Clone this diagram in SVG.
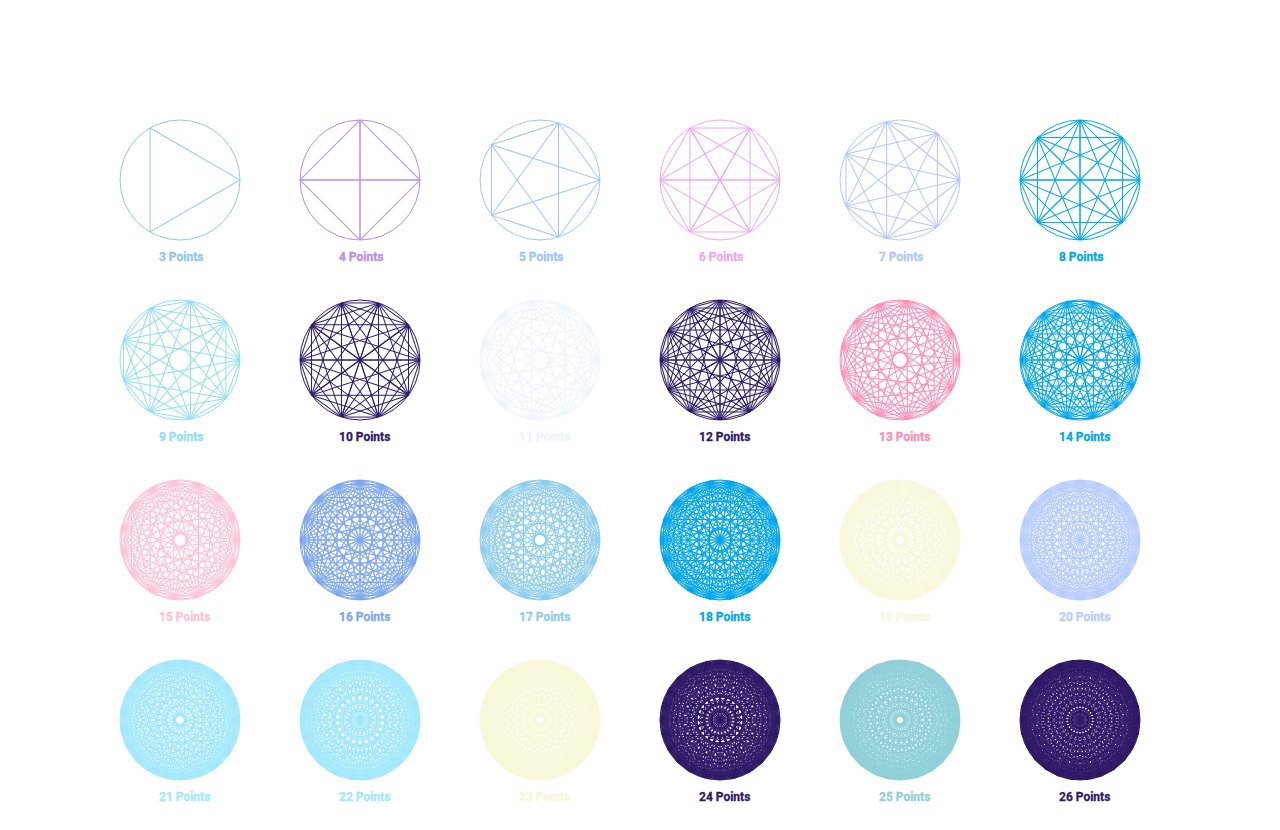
<svg xmlns="http://www.w3.org/2000/svg" xmlns:xlink="http://www.w3.org/1999/xlink" width="1280" height="830" viewBox="0 0 1280 830">
<style>
.nd{fill:none;stroke:currentColor;stroke-width:1}
.nd text{fill:currentColor;stroke:currentColor;stroke-width:0.3;font-family:Roboto,"Liberation Sans",sans-serif;font-weight:700;font-size:12px}
</style>
<defs>
<clipPath id="cp"><circle r="60"/></clipPath>
<line id="L" x1="60" y1="0" x2="60" y2="130"/>
<g id="f3"><use href="#L" transform="rotate(60 60 0)"/></g>
<g id="f4"><use href="#L" transform="rotate(45 60 0)"/><use href="#L" transform="rotate(90 60 0)"/></g>
<g id="f5"><use href="#L" transform="rotate(36 60 0)"/><use href="#L" transform="rotate(72 60 0)"/></g>
<g id="f6"><use href="#L" transform="rotate(30 60 0)"/><use href="#L" transform="rotate(60 60 0)"/><use href="#L" transform="rotate(90 60 0)"/></g>
<g id="f7"><use href="#L" transform="rotate(25.714 60 0)"/><use href="#L" transform="rotate(51.429 60 0)"/><use href="#L" transform="rotate(77.143 60 0)"/></g>
<g id="f8"><use href="#L" transform="rotate(22.5 60 0)"/><use href="#L" transform="rotate(45 60 0)"/><use href="#L" transform="rotate(67.5 60 0)"/><use href="#L" transform="rotate(90 60 0)"/></g>
<g id="f9"><use href="#L" transform="rotate(20 60 0)"/><use href="#L" transform="rotate(40 60 0)"/><use href="#L" transform="rotate(60 60 0)"/><use href="#L" transform="rotate(80 60 0)"/></g>
<g id="f10"><use href="#L" transform="rotate(18 60 0)"/><use href="#L" transform="rotate(36 60 0)"/><use href="#L" transform="rotate(54 60 0)"/><use href="#L" transform="rotate(72 60 0)"/><use href="#L" transform="rotate(90 60 0)"/></g>
<g id="f11"><use href="#L" transform="rotate(16.364 60 0)"/><use href="#L" transform="rotate(32.727 60 0)"/><use href="#L" transform="rotate(49.091 60 0)"/><use href="#L" transform="rotate(65.455 60 0)"/><use href="#L" transform="rotate(81.818 60 0)"/></g>
<g id="f12"><use href="#L" transform="rotate(15 60 0)"/><use href="#L" transform="rotate(30 60 0)"/><use href="#L" transform="rotate(45 60 0)"/><use href="#L" transform="rotate(60 60 0)"/><use href="#L" transform="rotate(75 60 0)"/><use href="#L" transform="rotate(90 60 0)"/></g>
<g id="f13"><use href="#L" transform="rotate(13.846 60 0)"/><use href="#L" transform="rotate(27.692 60 0)"/><use href="#L" transform="rotate(41.538 60 0)"/><use href="#L" transform="rotate(55.385 60 0)"/><use href="#L" transform="rotate(69.231 60 0)"/><use href="#L" transform="rotate(83.077 60 0)"/></g>
<g id="f14"><use href="#L" transform="rotate(12.857 60 0)"/><use href="#L" transform="rotate(25.714 60 0)"/><use href="#L" transform="rotate(38.571 60 0)"/><use href="#L" transform="rotate(51.429 60 0)"/><use href="#L" transform="rotate(64.286 60 0)"/><use href="#L" transform="rotate(77.143 60 0)"/><use href="#L" transform="rotate(90 60 0)"/></g>
<g id="f15"><use href="#L" transform="rotate(12 60 0)"/><use href="#L" transform="rotate(24 60 0)"/><use href="#L" transform="rotate(36 60 0)"/><use href="#L" transform="rotate(48 60 0)"/><use href="#L" transform="rotate(60 60 0)"/><use href="#L" transform="rotate(72 60 0)"/><use href="#L" transform="rotate(84 60 0)"/></g>
<g id="f16"><use href="#L" transform="rotate(11.25 60 0)"/><use href="#L" transform="rotate(22.5 60 0)"/><use href="#L" transform="rotate(33.75 60 0)"/><use href="#L" transform="rotate(45 60 0)"/><use href="#L" transform="rotate(56.25 60 0)"/><use href="#L" transform="rotate(67.5 60 0)"/><use href="#L" transform="rotate(78.75 60 0)"/><use href="#L" transform="rotate(90 60 0)"/></g>
<g id="f17"><use href="#L" transform="rotate(10.588 60 0)"/><use href="#L" transform="rotate(21.176 60 0)"/><use href="#L" transform="rotate(31.765 60 0)"/><use href="#L" transform="rotate(42.353 60 0)"/><use href="#L" transform="rotate(52.941 60 0)"/><use href="#L" transform="rotate(63.529 60 0)"/><use href="#L" transform="rotate(74.118 60 0)"/><use href="#L" transform="rotate(84.706 60 0)"/></g>
<g id="f18"><use href="#L" transform="rotate(10 60 0)"/><use href="#L" transform="rotate(20 60 0)"/><use href="#L" transform="rotate(30 60 0)"/><use href="#L" transform="rotate(40 60 0)"/><use href="#L" transform="rotate(50 60 0)"/><use href="#L" transform="rotate(60 60 0)"/><use href="#L" transform="rotate(70 60 0)"/><use href="#L" transform="rotate(80 60 0)"/><use href="#L" transform="rotate(90 60 0)"/></g>
<g id="f19"><use href="#L" transform="rotate(9.474 60 0)"/><use href="#L" transform="rotate(18.947 60 0)"/><use href="#L" transform="rotate(28.421 60 0)"/><use href="#L" transform="rotate(37.895 60 0)"/><use href="#L" transform="rotate(47.368 60 0)"/><use href="#L" transform="rotate(56.842 60 0)"/><use href="#L" transform="rotate(66.316 60 0)"/><use href="#L" transform="rotate(75.789 60 0)"/><use href="#L" transform="rotate(85.263 60 0)"/></g>
<g id="f20"><use href="#L" transform="rotate(9 60 0)"/><use href="#L" transform="rotate(18 60 0)"/><use href="#L" transform="rotate(27 60 0)"/><use href="#L" transform="rotate(36 60 0)"/><use href="#L" transform="rotate(45 60 0)"/><use href="#L" transform="rotate(54 60 0)"/><use href="#L" transform="rotate(63 60 0)"/><use href="#L" transform="rotate(72 60 0)"/><use href="#L" transform="rotate(81 60 0)"/><use href="#L" transform="rotate(90 60 0)"/></g>
<g id="f21"><use href="#L" transform="rotate(8.571 60 0)"/><use href="#L" transform="rotate(17.143 60 0)"/><use href="#L" transform="rotate(25.714 60 0)"/><use href="#L" transform="rotate(34.286 60 0)"/><use href="#L" transform="rotate(42.857 60 0)"/><use href="#L" transform="rotate(51.429 60 0)"/><use href="#L" transform="rotate(60 60 0)"/><use href="#L" transform="rotate(68.571 60 0)"/><use href="#L" transform="rotate(77.143 60 0)"/><use href="#L" transform="rotate(85.714 60 0)"/></g>
<g id="f22"><use href="#L" transform="rotate(8.182 60 0)"/><use href="#L" transform="rotate(16.364 60 0)"/><use href="#L" transform="rotate(24.545 60 0)"/><use href="#L" transform="rotate(32.727 60 0)"/><use href="#L" transform="rotate(40.909 60 0)"/><use href="#L" transform="rotate(49.091 60 0)"/><use href="#L" transform="rotate(57.273 60 0)"/><use href="#L" transform="rotate(65.455 60 0)"/><use href="#L" transform="rotate(73.636 60 0)"/><use href="#L" transform="rotate(81.818 60 0)"/><use href="#L" transform="rotate(90 60 0)"/></g>
<g id="f23"><use href="#L" transform="rotate(7.826 60 0)"/><use href="#L" transform="rotate(15.652 60 0)"/><use href="#L" transform="rotate(23.478 60 0)"/><use href="#L" transform="rotate(31.304 60 0)"/><use href="#L" transform="rotate(39.13 60 0)"/><use href="#L" transform="rotate(46.957 60 0)"/><use href="#L" transform="rotate(54.783 60 0)"/><use href="#L" transform="rotate(62.609 60 0)"/><use href="#L" transform="rotate(70.435 60 0)"/><use href="#L" transform="rotate(78.261 60 0)"/><use href="#L" transform="rotate(86.087 60 0)"/></g>
<g id="f24"><use href="#L" transform="rotate(7.5 60 0)"/><use href="#L" transform="rotate(15 60 0)"/><use href="#L" transform="rotate(22.5 60 0)"/><use href="#L" transform="rotate(30 60 0)"/><use href="#L" transform="rotate(37.5 60 0)"/><use href="#L" transform="rotate(45 60 0)"/><use href="#L" transform="rotate(52.5 60 0)"/><use href="#L" transform="rotate(60 60 0)"/><use href="#L" transform="rotate(67.5 60 0)"/><use href="#L" transform="rotate(75 60 0)"/><use href="#L" transform="rotate(82.5 60 0)"/><use href="#L" transform="rotate(90 60 0)"/></g>
<g id="f25"><use href="#L" transform="rotate(7.2 60 0)"/><use href="#L" transform="rotate(14.4 60 0)"/><use href="#L" transform="rotate(21.6 60 0)"/><use href="#L" transform="rotate(28.8 60 0)"/><use href="#L" transform="rotate(36 60 0)"/><use href="#L" transform="rotate(43.2 60 0)"/><use href="#L" transform="rotate(50.4 60 0)"/><use href="#L" transform="rotate(57.6 60 0)"/><use href="#L" transform="rotate(64.8 60 0)"/><use href="#L" transform="rotate(72 60 0)"/><use href="#L" transform="rotate(79.2 60 0)"/><use href="#L" transform="rotate(86.4 60 0)"/></g>
<g id="f26"><use href="#L" transform="rotate(6.923 60 0)"/><use href="#L" transform="rotate(13.846 60 0)"/><use href="#L" transform="rotate(20.769 60 0)"/><use href="#L" transform="rotate(27.692 60 0)"/><use href="#L" transform="rotate(34.615 60 0)"/><use href="#L" transform="rotate(41.538 60 0)"/><use href="#L" transform="rotate(48.462 60 0)"/><use href="#L" transform="rotate(55.385 60 0)"/><use href="#L" transform="rotate(62.308 60 0)"/><use href="#L" transform="rotate(69.231 60 0)"/><use href="#L" transform="rotate(76.154 60 0)"/><use href="#L" transform="rotate(83.077 60 0)"/><use href="#L" transform="rotate(90 60 0)"/></g>
</defs>
<rect width="1280" height="830" fill="#ffffff"/>

<g id="k3" class="nd" color="#8ecae6" transform="translate(180,180)"><g clip-path="url(#cp)"><use href="#f3"/><g transform="rotate(120)"><use href="#f3"/><g transform="rotate(120)"><use href="#f3"/></g></g></g><circle r="60"/><text x="-21" y="81">3 Points</text></g>

<g id="k4" class="nd" color="#b98cf0" transform="translate(360,180)"><g clip-path="url(#cp)"><use href="#f4"/><g transform="rotate(90)"><use href="#f4"/><g transform="rotate(90)"><use href="#f4"/><g transform="rotate(90)"><use href="#f4"/></g></g></g></g><circle r="60"/><text x="-21" y="81">4 Points</text></g>

<g id="k5" class="nd" color="#a0c4ff" transform="translate(540,180)"><g clip-path="url(#cp)"><use href="#f5"/><g transform="rotate(72)"><use href="#f5"/><g transform="rotate(72)"><use href="#f5"/><g transform="rotate(72)"><use href="#f5"/><g transform="rotate(72)"><use href="#f5"/></g></g></g></g></g><circle r="60"/><text x="-21" y="81">5 Points</text></g>

<g id="k6" class="nd" color="#f1a7ef" transform="translate(720,180)"><g clip-path="url(#cp)"><use href="#f6"/><g transform="rotate(60)"><use href="#f6"/><g transform="rotate(60)"><use href="#f6"/><g transform="rotate(60)"><use href="#f6"/><g transform="rotate(60)"><use href="#f6"/><g transform="rotate(60)"><use href="#f6"/></g></g></g></g></g></g><circle r="60"/><text x="-21" y="81">6 Points</text></g>

<g id="k7" class="nd" color="#b4c6ff" transform="translate(900,180)"><g clip-path="url(#cp)"><use href="#f7"/><g transform="rotate(51.42857)"><use href="#f7"/><g transform="rotate(51.42857)"><use href="#f7"/><g transform="rotate(51.42857)"><use href="#f7"/><g transform="rotate(51.42857)"><use href="#f7"/><g transform="rotate(51.42857)"><use href="#f7"/><g transform="rotate(51.42857)"><use href="#f7"/></g></g></g></g></g></g></g><circle r="60"/><text x="-21" y="81">7 Points</text></g>

<g id="k8" class="nd" color="#00a6ed" transform="translate(1080,180)"><g clip-path="url(#cp)"><use href="#f8"/><g transform="rotate(45)"><use href="#f8"/><g transform="rotate(45)"><use href="#f8"/><g transform="rotate(45)"><use href="#f8"/><g transform="rotate(45)"><use href="#f8"/><g transform="rotate(45)"><use href="#f8"/><g transform="rotate(45)"><use href="#f8"/><g transform="rotate(45)"><use href="#f8"/></g></g></g></g></g></g></g></g><circle r="60"/><text x="-21" y="81">8 Points</text></g>

<g id="k9" class="nd" color="#90e0ef" transform="translate(180,360)"><g clip-path="url(#cp)"><use href="#f9"/><g transform="rotate(40)"><use href="#f9"/><g transform="rotate(40)"><use href="#f9"/><g transform="rotate(40)"><use href="#f9"/><g transform="rotate(40)"><use href="#f9"/><g transform="rotate(40)"><use href="#f9"/><g transform="rotate(40)"><use href="#f9"/><g transform="rotate(40)"><use href="#f9"/><g transform="rotate(40)"><use href="#f9"/></g></g></g></g></g></g></g></g></g><circle r="60"/><text x="-21" y="81">9 Points</text></g>

<g id="k10" class="nd" color="#2f1a68" transform="translate(360,360)"><g clip-path="url(#cp)"><use href="#f10"/><g transform="rotate(36)"><use href="#f10"/><g transform="rotate(36)"><use href="#f10"/><g transform="rotate(36)"><use href="#f10"/><g transform="rotate(36)"><use href="#f10"/><g transform="rotate(36)"><use href="#f10"/><g transform="rotate(36)"><use href="#f10"/><g transform="rotate(36)"><use href="#f10"/><g transform="rotate(36)"><use href="#f10"/><g transform="rotate(36)"><use href="#f10"/></g></g></g></g></g></g></g></g></g></g><circle r="60"/><text x="-21" y="81">10 Points</text></g>

<g id="k11" class="nd" color="#edf2ff" transform="translate(540,360)"><g clip-path="url(#cp)"><use href="#f11"/><g transform="rotate(32.72727)"><use href="#f11"/><g transform="rotate(32.72727)"><use href="#f11"/><g transform="rotate(32.72727)"><use href="#f11"/><g transform="rotate(32.72727)"><use href="#f11"/><g transform="rotate(32.72727)"><use href="#f11"/><g transform="rotate(32.72727)"><use href="#f11"/><g transform="rotate(32.72727)"><use href="#f11"/><g transform="rotate(32.72727)"><use href="#f11"/><g transform="rotate(32.72727)"><use href="#f11"/><g transform="rotate(32.72727)"><use href="#f11"/></g></g></g></g></g></g></g></g></g></g></g><circle r="60"/><text x="-21" y="81">11 Points</text></g>

<g id="k12" class="nd" color="#2f1a68" transform="translate(720,360)"><g clip-path="url(#cp)"><use href="#f12"/><g transform="rotate(30)"><use href="#f12"/><g transform="rotate(30)"><use href="#f12"/><g transform="rotate(30)"><use href="#f12"/><g transform="rotate(30)"><use href="#f12"/><g transform="rotate(30)"><use href="#f12"/><g transform="rotate(30)"><use href="#f12"/><g transform="rotate(30)"><use href="#f12"/><g transform="rotate(30)"><use href="#f12"/><g transform="rotate(30)"><use href="#f12"/><g transform="rotate(30)"><use href="#f12"/><g transform="rotate(30)"><use href="#f12"/></g></g></g></g></g></g></g></g></g></g></g></g><circle r="60"/><text x="-21" y="81">12 Points</text></g>

<g id="k13" class="nd" color="#ff8db4" transform="translate(900,360)"><g clip-path="url(#cp)"><use href="#f13"/><g transform="rotate(27.69231)"><use href="#f13"/><g transform="rotate(27.69231)"><use href="#f13"/><g transform="rotate(27.69231)"><use href="#f13"/><g transform="rotate(27.69231)"><use href="#f13"/><g transform="rotate(27.69231)"><use href="#f13"/><g transform="rotate(27.69231)"><use href="#f13"/><g transform="rotate(27.69231)"><use href="#f13"/><g transform="rotate(27.69231)"><use href="#f13"/><g transform="rotate(27.69231)"><use href="#f13"/><g transform="rotate(27.69231)"><use href="#f13"/><g transform="rotate(27.69231)"><use href="#f13"/><g transform="rotate(27.69231)"><use href="#f13"/></g></g></g></g></g></g></g></g></g></g></g></g></g><circle r="60"/><text x="-21" y="81">13 Points</text></g>

<g id="k14" class="nd" color="#00a6ed" transform="translate(1080,360)"><g clip-path="url(#cp)"><use href="#f14"/><g transform="rotate(25.71429)"><use href="#f14"/><g transform="rotate(25.71429)"><use href="#f14"/><g transform="rotate(25.71429)"><use href="#f14"/><g transform="rotate(25.71429)"><use href="#f14"/><g transform="rotate(25.71429)"><use href="#f14"/><g transform="rotate(25.71429)"><use href="#f14"/><g transform="rotate(25.71429)"><use href="#f14"/><g transform="rotate(25.71429)"><use href="#f14"/><g transform="rotate(25.71429)"><use href="#f14"/><g transform="rotate(25.71429)"><use href="#f14"/><g transform="rotate(25.71429)"><use href="#f14"/><g transform="rotate(25.71429)"><use href="#f14"/><g transform="rotate(25.71429)"><use href="#f14"/></g></g></g></g></g></g></g></g></g></g></g></g></g></g><circle r="60"/><text x="-21" y="81">14 Points</text></g>

<g id="k15" class="nd" color="#ffc2d6" transform="translate(180,540)"><g clip-path="url(#cp)"><use href="#f15"/><g transform="rotate(24)"><use href="#f15"/><g transform="rotate(24)"><use href="#f15"/><g transform="rotate(24)"><use href="#f15"/><g transform="rotate(24)"><use href="#f15"/><g transform="rotate(24)"><use href="#f15"/><g transform="rotate(24)"><use href="#f15"/><g transform="rotate(24)"><use href="#f15"/><g transform="rotate(24)"><use href="#f15"/><g transform="rotate(24)"><use href="#f15"/><g transform="rotate(24)"><use href="#f15"/><g transform="rotate(24)"><use href="#f15"/><g transform="rotate(24)"><use href="#f15"/><g transform="rotate(24)"><use href="#f15"/><g transform="rotate(24)"><use href="#f15"/></g></g></g></g></g></g></g></g></g></g></g></g></g></g></g><circle r="60"/><text x="-21" y="81">15 Points</text></g>

<g id="k16" class="nd" color="#7ea7f0" transform="translate(360,540)"><g clip-path="url(#cp)"><use href="#f16"/><g transform="rotate(22.5)"><use href="#f16"/><g transform="rotate(22.5)"><use href="#f16"/><g transform="rotate(22.5)"><use href="#f16"/><g transform="rotate(22.5)"><use href="#f16"/><g transform="rotate(22.5)"><use href="#f16"/><g transform="rotate(22.5)"><use href="#f16"/><g transform="rotate(22.5)"><use href="#f16"/><g transform="rotate(22.5)"><use href="#f16"/><g transform="rotate(22.5)"><use href="#f16"/><g transform="rotate(22.5)"><use href="#f16"/><g transform="rotate(22.5)"><use href="#f16"/><g transform="rotate(22.5)"><use href="#f16"/><g transform="rotate(22.5)"><use href="#f16"/><g transform="rotate(22.5)"><use href="#f16"/><g transform="rotate(22.5)"><use href="#f16"/></g></g></g></g></g></g></g></g></g></g></g></g></g></g></g></g><circle r="60"/><text x="-21" y="81">16 Points</text></g>

<g id="k17" class="nd" color="#8ecdee" transform="translate(540,540)"><g clip-path="url(#cp)"><use href="#f17"/><g transform="rotate(21.17647)"><use href="#f17"/><g transform="rotate(21.17647)"><use href="#f17"/><g transform="rotate(21.17647)"><use href="#f17"/><g transform="rotate(21.17647)"><use href="#f17"/><g transform="rotate(21.17647)"><use href="#f17"/><g transform="rotate(21.17647)"><use href="#f17"/><g transform="rotate(21.17647)"><use href="#f17"/><g transform="rotate(21.17647)"><use href="#f17"/><g transform="rotate(21.17647)"><use href="#f17"/><g transform="rotate(21.17647)"><use href="#f17"/><g transform="rotate(21.17647)"><use href="#f17"/><g transform="rotate(21.17647)"><use href="#f17"/><g transform="rotate(21.17647)"><use href="#f17"/><g transform="rotate(21.17647)"><use href="#f17"/><g transform="rotate(21.17647)"><use href="#f17"/><g transform="rotate(21.17647)"><use href="#f17"/></g></g></g></g></g></g></g></g></g></g></g></g></g></g></g></g></g><circle r="60"/><text x="-21" y="81">17 Points</text></g>

<g id="k18" class="nd" color="#00a6ed" transform="translate(720,540)"><g clip-path="url(#cp)"><use href="#f18"/><g transform="rotate(20)"><use href="#f18"/><g transform="rotate(20)"><use href="#f18"/><g transform="rotate(20)"><use href="#f18"/><g transform="rotate(20)"><use href="#f18"/><g transform="rotate(20)"><use href="#f18"/><g transform="rotate(20)"><use href="#f18"/><g transform="rotate(20)"><use href="#f18"/><g transform="rotate(20)"><use href="#f18"/><g transform="rotate(20)"><use href="#f18"/><g transform="rotate(20)"><use href="#f18"/><g transform="rotate(20)"><use href="#f18"/><g transform="rotate(20)"><use href="#f18"/><g transform="rotate(20)"><use href="#f18"/><g transform="rotate(20)"><use href="#f18"/><g transform="rotate(20)"><use href="#f18"/><g transform="rotate(20)"><use href="#f18"/><g transform="rotate(20)"><use href="#f18"/></g></g></g></g></g></g></g></g></g></g></g></g></g></g></g></g></g></g><circle r="60"/><text x="-21" y="81">18 Points</text></g>

<g id="k19" class="nd" color="#f8f7d8" transform="translate(900,540)"><g clip-path="url(#cp)"><use href="#f19"/><g transform="rotate(18.94737)"><use href="#f19"/><g transform="rotate(18.94737)"><use href="#f19"/><g transform="rotate(18.94737)"><use href="#f19"/><g transform="rotate(18.94737)"><use href="#f19"/><g transform="rotate(18.94737)"><use href="#f19"/><g transform="rotate(18.94737)"><use href="#f19"/><g transform="rotate(18.94737)"><use href="#f19"/><g transform="rotate(18.94737)"><use href="#f19"/><g transform="rotate(18.94737)"><use href="#f19"/><g transform="rotate(18.94737)"><use href="#f19"/><g transform="rotate(18.94737)"><use href="#f19"/><g transform="rotate(18.94737)"><use href="#f19"/><g transform="rotate(18.94737)"><use href="#f19"/><g transform="rotate(18.94737)"><use href="#f19"/><g transform="rotate(18.94737)"><use href="#f19"/><g transform="rotate(18.94737)"><use href="#f19"/><g transform="rotate(18.94737)"><use href="#f19"/><g transform="rotate(18.94737)"><use href="#f19"/></g></g></g></g></g></g></g></g></g></g></g></g></g></g></g></g></g></g></g><circle r="60"/><text x="-21" y="81">19 Points</text></g>

<g id="k20" class="nd" color="#b8cdff" transform="translate(1080,540)"><g clip-path="url(#cp)"><use href="#f20"/><g transform="rotate(18)"><use href="#f20"/><g transform="rotate(18)"><use href="#f20"/><g transform="rotate(18)"><use href="#f20"/><g transform="rotate(18)"><use href="#f20"/><g transform="rotate(18)"><use href="#f20"/><g transform="rotate(18)"><use href="#f20"/><g transform="rotate(18)"><use href="#f20"/><g transform="rotate(18)"><use href="#f20"/><g transform="rotate(18)"><use href="#f20"/><g transform="rotate(18)"><use href="#f20"/><g transform="rotate(18)"><use href="#f20"/><g transform="rotate(18)"><use href="#f20"/><g transform="rotate(18)"><use href="#f20"/><g transform="rotate(18)"><use href="#f20"/><g transform="rotate(18)"><use href="#f20"/><g transform="rotate(18)"><use href="#f20"/><g transform="rotate(18)"><use href="#f20"/><g transform="rotate(18)"><use href="#f20"/><g transform="rotate(18)"><use href="#f20"/></g></g></g></g></g></g></g></g></g></g></g></g></g></g></g></g></g></g></g></g><circle r="60"/><text x="-21" y="81">20 Points</text></g>

<g id="k21" class="nd" color="#a2e8fc" transform="translate(180,720)"><g clip-path="url(#cp)"><use href="#f21"/><g transform="rotate(17.14286)"><use href="#f21"/><g transform="rotate(17.14286)"><use href="#f21"/><g transform="rotate(17.14286)"><use href="#f21"/><g transform="rotate(17.14286)"><use href="#f21"/><g transform="rotate(17.14286)"><use href="#f21"/><g transform="rotate(17.14286)"><use href="#f21"/><g transform="rotate(17.14286)"><use href="#f21"/><g transform="rotate(17.14286)"><use href="#f21"/><g transform="rotate(17.14286)"><use href="#f21"/><g transform="rotate(17.14286)"><use href="#f21"/><g transform="rotate(17.14286)"><use href="#f21"/><g transform="rotate(17.14286)"><use href="#f21"/><g transform="rotate(17.14286)"><use href="#f21"/><g transform="rotate(17.14286)"><use href="#f21"/><g transform="rotate(17.14286)"><use href="#f21"/><g transform="rotate(17.14286)"><use href="#f21"/><g transform="rotate(17.14286)"><use href="#f21"/><g transform="rotate(17.14286)"><use href="#f21"/><g transform="rotate(17.14286)"><use href="#f21"/><g transform="rotate(17.14286)"><use href="#f21"/></g></g></g></g></g></g></g></g></g></g></g></g></g></g></g></g></g></g></g></g></g><circle r="60"/><text x="-21" y="81">21 Points</text></g>

<g id="k22" class="nd" color="#a2e8fc" transform="translate(360,720)"><g clip-path="url(#cp)"><use href="#f22"/><g transform="rotate(16.36364)"><use href="#f22"/><g transform="rotate(16.36364)"><use href="#f22"/><g transform="rotate(16.36364)"><use href="#f22"/><g transform="rotate(16.36364)"><use href="#f22"/><g transform="rotate(16.36364)"><use href="#f22"/><g transform="rotate(16.36364)"><use href="#f22"/><g transform="rotate(16.36364)"><use href="#f22"/><g transform="rotate(16.36364)"><use href="#f22"/><g transform="rotate(16.36364)"><use href="#f22"/><g transform="rotate(16.36364)"><use href="#f22"/><g transform="rotate(16.36364)"><use href="#f22"/><g transform="rotate(16.36364)"><use href="#f22"/><g transform="rotate(16.36364)"><use href="#f22"/><g transform="rotate(16.36364)"><use href="#f22"/><g transform="rotate(16.36364)"><use href="#f22"/><g transform="rotate(16.36364)"><use href="#f22"/><g transform="rotate(16.36364)"><use href="#f22"/><g transform="rotate(16.36364)"><use href="#f22"/><g transform="rotate(16.36364)"><use href="#f22"/><g transform="rotate(16.36364)"><use href="#f22"/><g transform="rotate(16.36364)"><use href="#f22"/></g></g></g></g></g></g></g></g></g></g></g></g></g></g></g></g></g></g></g></g></g></g><circle r="60"/><text x="-21" y="81">22 Points</text></g>

<g id="k23" class="nd" color="#f8f7d8" transform="translate(540,720)"><g clip-path="url(#cp)"><use href="#f23"/><g transform="rotate(15.65217)"><use href="#f23"/><g transform="rotate(15.65217)"><use href="#f23"/><g transform="rotate(15.65217)"><use href="#f23"/><g transform="rotate(15.65217)"><use href="#f23"/><g transform="rotate(15.65217)"><use href="#f23"/><g transform="rotate(15.65217)"><use href="#f23"/><g transform="rotate(15.65217)"><use href="#f23"/><g transform="rotate(15.65217)"><use href="#f23"/><g transform="rotate(15.65217)"><use href="#f23"/><g transform="rotate(15.65217)"><use href="#f23"/><g transform="rotate(15.65217)"><use href="#f23"/><g transform="rotate(15.65217)"><use href="#f23"/><g transform="rotate(15.65217)"><use href="#f23"/><g transform="rotate(15.65217)"><use href="#f23"/><g transform="rotate(15.65217)"><use href="#f23"/><g transform="rotate(15.65217)"><use href="#f23"/><g transform="rotate(15.65217)"><use href="#f23"/><g transform="rotate(15.65217)"><use href="#f23"/><g transform="rotate(15.65217)"><use href="#f23"/><g transform="rotate(15.65217)"><use href="#f23"/><g transform="rotate(15.65217)"><use href="#f23"/><g transform="rotate(15.65217)"><use href="#f23"/></g></g></g></g></g></g></g></g></g></g></g></g></g></g></g></g></g></g></g></g></g></g></g><circle r="60"/><text x="-21" y="81">23 Points</text></g>

<g id="k24" class="nd" color="#2f1a68" transform="translate(720,720)"><g clip-path="url(#cp)"><use href="#f24"/><g transform="rotate(15)"><use href="#f24"/><g transform="rotate(15)"><use href="#f24"/><g transform="rotate(15)"><use href="#f24"/><g transform="rotate(15)"><use href="#f24"/><g transform="rotate(15)"><use href="#f24"/><g transform="rotate(15)"><use href="#f24"/><g transform="rotate(15)"><use href="#f24"/><g transform="rotate(15)"><use href="#f24"/><g transform="rotate(15)"><use href="#f24"/><g transform="rotate(15)"><use href="#f24"/><g transform="rotate(15)"><use href="#f24"/><g transform="rotate(15)"><use href="#f24"/><g transform="rotate(15)"><use href="#f24"/><g transform="rotate(15)"><use href="#f24"/><g transform="rotate(15)"><use href="#f24"/><g transform="rotate(15)"><use href="#f24"/><g transform="rotate(15)"><use href="#f24"/><g transform="rotate(15)"><use href="#f24"/><g transform="rotate(15)"><use href="#f24"/><g transform="rotate(15)"><use href="#f24"/><g transform="rotate(15)"><use href="#f24"/><g transform="rotate(15)"><use href="#f24"/><g transform="rotate(15)"><use href="#f24"/></g></g></g></g></g></g></g></g></g></g></g></g></g></g></g></g></g></g></g></g></g></g></g></g><circle r="60"/><text x="-21" y="81">24 Points</text></g>

<g id="k25" class="nd" color="#8fd0d8" transform="translate(900,720)"><g clip-path="url(#cp)"><use href="#f25"/><g transform="rotate(14.4)"><use href="#f25"/><g transform="rotate(14.4)"><use href="#f25"/><g transform="rotate(14.4)"><use href="#f25"/><g transform="rotate(14.4)"><use href="#f25"/><g transform="rotate(14.4)"><use href="#f25"/><g transform="rotate(14.4)"><use href="#f25"/><g transform="rotate(14.4)"><use href="#f25"/><g transform="rotate(14.4)"><use href="#f25"/><g transform="rotate(14.4)"><use href="#f25"/><g transform="rotate(14.4)"><use href="#f25"/><g transform="rotate(14.4)"><use href="#f25"/><g transform="rotate(14.4)"><use href="#f25"/><g transform="rotate(14.4)"><use href="#f25"/><g transform="rotate(14.4)"><use href="#f25"/><g transform="rotate(14.4)"><use href="#f25"/><g transform="rotate(14.4)"><use href="#f25"/><g transform="rotate(14.4)"><use href="#f25"/><g transform="rotate(14.4)"><use href="#f25"/><g transform="rotate(14.4)"><use href="#f25"/><g transform="rotate(14.4)"><use href="#f25"/><g transform="rotate(14.4)"><use href="#f25"/><g transform="rotate(14.4)"><use href="#f25"/><g transform="rotate(14.4)"><use href="#f25"/><g transform="rotate(14.4)"><use href="#f25"/></g></g></g></g></g></g></g></g></g></g></g></g></g></g></g></g></g></g></g></g></g></g></g></g></g><circle r="60"/><text x="-21" y="81">25 Points</text></g>

<g id="k26" class="nd" color="#2f1a68" transform="translate(1080,720)"><g clip-path="url(#cp)"><use href="#f26"/><g transform="rotate(13.84615)"><use href="#f26"/><g transform="rotate(13.84615)"><use href="#f26"/><g transform="rotate(13.84615)"><use href="#f26"/><g transform="rotate(13.84615)"><use href="#f26"/><g transform="rotate(13.84615)"><use href="#f26"/><g transform="rotate(13.84615)"><use href="#f26"/><g transform="rotate(13.84615)"><use href="#f26"/><g transform="rotate(13.84615)"><use href="#f26"/><g transform="rotate(13.84615)"><use href="#f26"/><g transform="rotate(13.84615)"><use href="#f26"/><g transform="rotate(13.84615)"><use href="#f26"/><g transform="rotate(13.84615)"><use href="#f26"/><g transform="rotate(13.84615)"><use href="#f26"/><g transform="rotate(13.84615)"><use href="#f26"/><g transform="rotate(13.84615)"><use href="#f26"/><g transform="rotate(13.84615)"><use href="#f26"/><g transform="rotate(13.84615)"><use href="#f26"/><g transform="rotate(13.84615)"><use href="#f26"/><g transform="rotate(13.84615)"><use href="#f26"/><g transform="rotate(13.84615)"><use href="#f26"/><g transform="rotate(13.84615)"><use href="#f26"/><g transform="rotate(13.84615)"><use href="#f26"/><g transform="rotate(13.84615)"><use href="#f26"/><g transform="rotate(13.84615)"><use href="#f26"/><g transform="rotate(13.84615)"><use href="#f26"/></g></g></g></g></g></g></g></g></g></g></g></g></g></g></g></g></g></g></g></g></g></g></g></g></g></g><circle r="60"/><text x="-21" y="81">26 Points</text></g>
</svg>
